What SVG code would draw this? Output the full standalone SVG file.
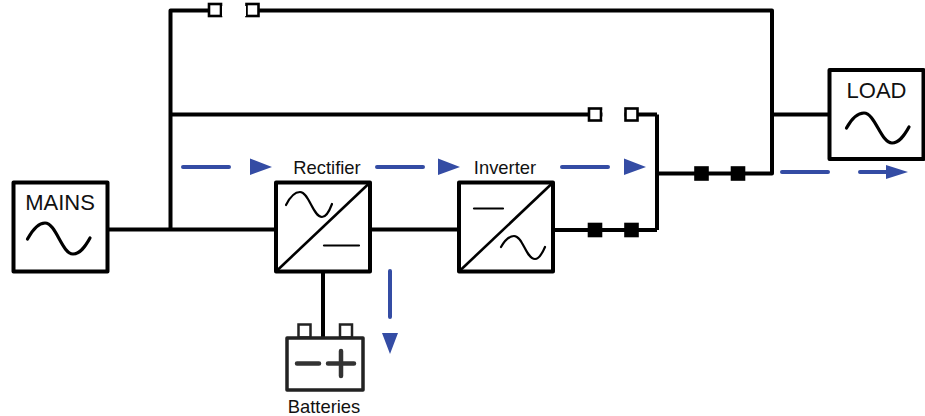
<svg xmlns="http://www.w3.org/2000/svg" width="925" height="416" viewBox="0 0 925 416">
<style>
.w{fill:none;stroke:#000;stroke-width:4;stroke-linejoin:round}
.box{fill:#fff;stroke:#000;stroke-width:4;stroke-linejoin:round}
.thin{fill:none;stroke:#000;stroke-width:2.2;stroke-linecap:round}
.sine{fill:none;stroke:#000;stroke-width:3.2;stroke-linecap:round}
.open{fill:#fff;stroke:#000;stroke-width:2.6}
.shut{fill:#000;stroke:#000;stroke-width:2.6}
.flow{fill:none;stroke:#344ca4;stroke-width:4;stroke-linecap:round}
.head{fill:#344ca4}
text{font-family:"Liberation Sans",Arial,sans-serif;fill:#111;text-anchor:middle}
</style>
<rect width="925" height="416" fill="#fff"/>
<g id="connectors">
<path class="w" d="M107 229.5H275M371 229.5H458M554 230H657M170.500 229.500V10.500H772V173.500H657M170.500 114.500H657M657 114.500V230M772 114.500H829M323 272V337"/>
</g>
<g id="switch-top"><rect class="open" x="209" y="4" width="12" height="12"/><rect class="open" x="246.500" y="4" width="12" height="12"/></g>
<rect x="222" y="6" width="24" height="10" fill="#fff"/>
<g id="switch-bypass"><rect class="open" x="589" y="108.500" width="12" height="12"/><rect x="602.500" y="110" width="22" height="10" fill="#fff"/><rect class="open" x="625.500" y="108.500" width="12" height="12"/></g>
<g id="switch-inverter"><rect class="shut" x="589" y="224" width="12" height="12"/><rect class="shut" x="625.500" y="224" width="12" height="12"/></g>
<g id="switch-output"><rect class="shut" x="695.500" y="167.500" width="12" height="12"/><rect class="shut" x="732" y="167.500" width="12" height="12"/></g>
<g id="mains">
<rect class="box" x="13.500" y="182.500" width="94" height="89"/>
<text x="60" y="210" font-size="22">MAINS</text>
<path class="sine" d="M27.500 239C33 229 39 223 45 223C56 223 62 254 73 254C80 254 85 247 90 238"/>
</g>
<g id="load">
<rect class="box" x="829.500" y="70" width="94" height="89"/>
<text x="876.500" y="98" font-size="22">LOAD</text>
<path class="sine" d="M846.500 128C852 118 858 113 864 113C875 113 881 143 892 143C899 143 904 136 909 127"/>
</g>
<g id="rectifier">
<rect class="box" x="276" y="182.500" width="94" height="89"/>
<path d="M276 271.500L370 182.500" fill="none" stroke="#000" stroke-width="2.600"/>
<path class="thin" d="M286 205C290 197 295 192 300 192C309 192 313 217 322 217C326 217 329 212 332 204"/>
<path class="thin" d="M324 245.500H359"/>
<text x="327" y="174" font-size="18.400">Rectifier</text>
</g>
<g id="inverter">
<rect class="box" x="459" y="182.500" width="94" height="89"/>
<path d="M459 271.500L553 182.500" fill="none" stroke="#000" stroke-width="2.600"/>
<path class="thin" d="M474 208.500H503"/>
<path class="thin" d="M501 247C505 240 509 236 514 236C523 236 526 259 535 259C539 259 542 254 545 247"/>
<text x="505" y="174" font-size="18.400">Inverter</text>
</g>
<g id="batteries">
<rect x="298.500" y="324.500" width="12" height="13" fill="#fff" stroke="#222" stroke-width="2.500"/>
<rect x="340" y="324.500" width="12" height="13" fill="#fff" stroke="#222" stroke-width="2.500"/>
<rect x="287" y="338" width="76" height="52" fill="#fff" stroke="#222" stroke-width="3.500" stroke-linejoin="round"/>
<path d="M297 363.500H319M328 363.500H354M341 351V376" fill="none" stroke="#333" stroke-width="4.500" stroke-linecap="round"/>
<text x="324" y="413" font-size="18.400">Batteries</text>
</g>
<g id="flow">
<path class="flow" d="M183 167H229M377 167H423M562 167H608M782 172H828M860 172H890M390 271V317"/>
<path class="head" d="M250 158.500L272 167L250 175ZM438 158.500L460 167L438 175ZM624 158.500L646 167L624 175ZM886 165L908 172L886 179ZM382 333H398L390 354Z"/>
</g>
</svg>
